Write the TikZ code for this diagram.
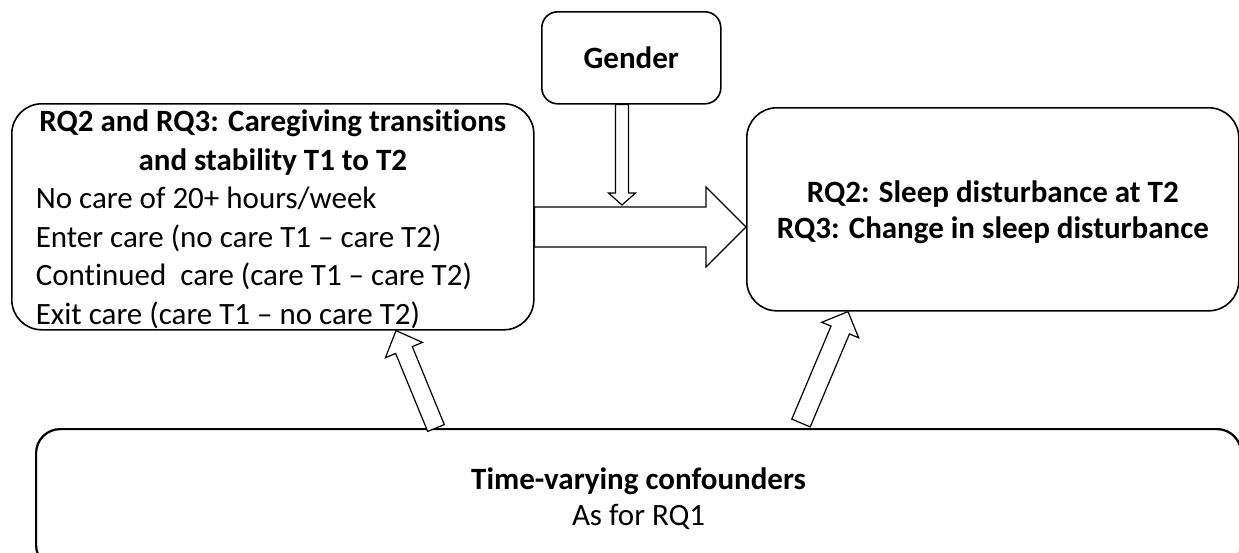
\documentclass[tikz,border=0pt]{standalone}
\usepackage{fontspec}
\setmainfont[Ligatures=NoCommon]{Carlito}
\usetikzlibrary{calc}
\tikzset{
  box/.style={draw=black, line width=1.6pt, fill=white, rounded corners=#1, inner sep=0pt},
  box/.default=30pt,
  arr/.style={draw=black, line width=1.2pt, fill=white, line join=miter},
  txt/.style={font=\fontsize{31}{38.5}\selectfont}
}
\newcommand\blockarr[5]{%
  \path ($(#2)!#5!(#1)$) coordinate (bah);
  \draw[arr] ($(#1)!#3!90:(#2)$) -- ($(bah)!#3!90:(#2)$) -- ($(bah)!#4!90:(#2)$) -- (#2)
    -- ($(bah)!#4!-90:(#2)$) -- ($(bah)!#3!-90:(#2)$) -- ($(#1)!#3!-90:(#2)$) -- cycle;
}
\begin{document}
\begin{tikzpicture}[x=1pt, y=-1pt]
\useasboundingbox (0,0) rectangle (1239,552);
\fill[white] (0,0) rectangle (1239,552);

% boxes
\node[box=16pt, txt, anchor=north west, minimum width=179pt, minimum height=92pt] (gender) at (541,11) {\bfseries Gender};

\node[box, txt, anchor=north west, minimum width=522pt, minimum height=226pt] (care) at (11,103)
{\begin{minipage}[c][214pt][t]{474pt}\fontsize{31}{38.6}\selectfont
\centering\bfseries RQ2 and RQ3: Caregiving transitions\\ and stability T1 to T2\par
\raggedright\mdseries No care of 20+ hours/week\\
Enter care (no care T1 -- care T2)\\
Continued~ care (care T1 -- care T2)\\
Exit care (care T1 -- no care T2)
\end{minipage}};

\node[box, anchor=north west, minimum width=492pt, minimum height=203pt] (res) at (746,107) {};
\node[align=center, font=\fontsize{31}{35.5}\selectfont\bfseries, inner sep=0pt] (restxt)
  at ($(res.center)+(0,3)$) {RQ2: Sleep disturbance at T2\\RQ3: Change in sleep disturbance};

\node[box=24pt, txt, anchor=north west, minimum width=1205pt, minimum height=140pt, align=center,
  line width=2.2pt, font=\fontsize{31}{36}\selectfont] (conf) at (35,428)
{\textbf{Time-varying confounders}\\As for RQ1};

% connectors
\coordinate (bigS) at (care.east |- 0,227);
\coordinate (bigT) at (res.west |- 0,227);
\blockarr{bigS}{bigT}{20pt}{40pt}{40pt}

\coordinate (gS) at (622,0 |- gender.south);
\coordinate (gT) at (622,205);
\blockarr{gS}{gT}{6.5pt}{13.5pt}{12pt}

\coordinate (lS) at (436,0 |- conf.north);
\coordinate (lT) at (396,0 |- care.south);
\blockarr{lS}{lT}{9pt}{20pt}{21pt}

\coordinate (rS) at (801,423);
\coordinate (rT) at (848,0 |- res.south);
\blockarr{rS}{rT}{10pt}{20pt}{20pt}
\end{tikzpicture}
\end{document}
